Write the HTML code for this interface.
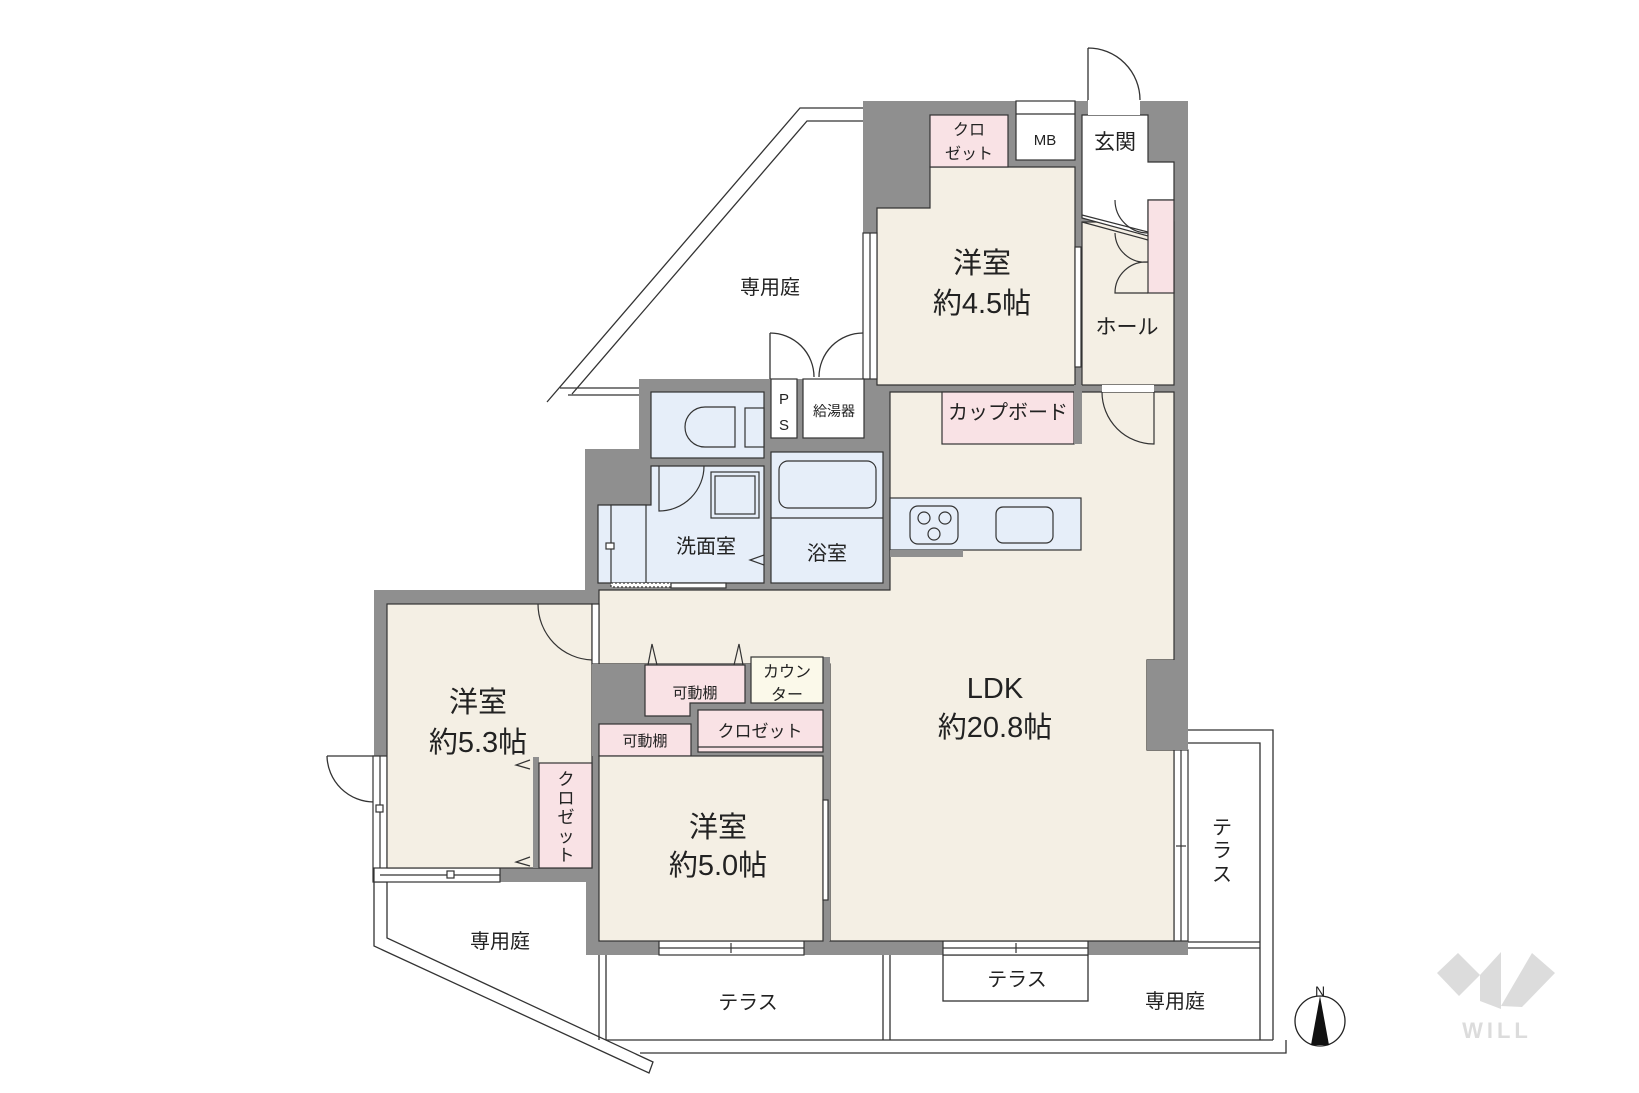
<!DOCTYPE html>
<html><head><meta charset="utf-8"><style>
html,body{margin:0;padding:0;background:#fff;}
svg{display:block;}
text{font-family:"Liberation Sans","Noto Sans CJK JP",sans-serif;fill:#222;}
</style></head><body>
<svg width="1639" height="1093" viewBox="0 0 1639 1093" xmlns="http://www.w3.org/2000/svg">
<g fill="none" stroke="#333" stroke-width="1.3">
<!-- top garden -->
<path d="M863,108 L800,108 L547,402"/>
<path d="M863,121 L807,121 L572,394"/>
<path d="M560,388 L639,388 M568,395 L639,395"/>
<path d="M770,333 L770,379"/>
<path d="M770,333 A44,44 0 0 1 814,377 M863,333 A44,44 0 0 0 819,377"/>
<!-- bottom left garden -->
<path d="M374,882 L374,946 L649,1073 L653,1062 L387,938 L387,882"/>
<!-- bottom terraces -->
<path d="M599,955 L599,1040 M606,955 L606,1040"/>
<path d="M606,1040 L1273,1040 M640,1053 L1286,1053 L1286,1040"/>
<path d="M883,955 L883,1040 M890,955 L890,1040"/>
<rect x="943" y="955" width="145" height="46"/>
<path d="M1188,730 L1273,730 L1273,1040 M1188,743 L1260,743 L1260,1040"/>
<path d="M1188,942 L1260,942 M1188,948 L1260,948"/>
<!-- doors outside -->
<path d="M327,756 L374,756 M327,756 A47,47 0 0 0 374,802"/>
<path d="M1088,48 L1088,101 M1088,48 A52,52 0 0 1 1140,100"/>
</g>
<!-- building walls -->
<polygon points="863,101 1188,101 1188,955 586,955 586,882 374,882 374,590 585,590 585,449 639,449 639,379 863,379" fill="#8f8f8f"/>
<g stroke="#333" stroke-width="1.2">
<!-- 4.5 room -->
<polygon points="930,167 1075,167 1075,385 877,385 877,208 930,208" fill="#f4efe4"/>
<rect x="930" y="115" width="78" height="52" fill="#f9e2e5"/>
<rect x="1016" y="101" width="59" height="59" fill="#fff"/>
<line x1="1016" y1="114" x2="1075" y2="114"/>
<!-- genkan / hall -->
<rect x="1082" y="222" width="92" height="163" fill="#f4efe4"/>
<polygon points="1082,115 1148,115 1148,162 1174,162 1174,200 1148,200 1148,236 1082,218" fill="#fff"/>
<rect x="1088" y="100" width="52" height="15" fill="#fff" stroke="none"/>
<path d="M1082,215 L1148,232 M1082,222 L1148,240" fill="none"/>
<rect x="1148" y="200" width="26" height="93" fill="#f9e2e5"/>
<path d="M1115,200 A33,33 0 0 0 1148,233 M1115,233 A30,30 0 0 0 1148,262 M1148,262 A31,31 0 0 0 1115,293 L1148,293" fill="none"/>
<!-- windows -->
<rect x="863" y="233" width="14" height="146" fill="#fff"/>
<line x1="870" y1="233" x2="870" y2="379"/>
<rect x="1075" y="247" width="6" height="120" fill="#fff"/>
<rect x="373" y="756" width="14" height="126" fill="#fff"/>
<line x1="380" y1="756" x2="380" y2="882"/>
<rect x="374" y="868" width="126" height="14" fill="#fff"/>
<line x1="380" y1="875" x2="500" y2="875"/>
<rect x="376" y="805" width="7" height="7" fill="#fff"/>
<rect x="447" y="871" width="7" height="7" fill="#fff"/>
<rect x="659" y="941" width="145" height="14" fill="#fff"/>
<line x1="659" y1="948" x2="804" y2="948"/><line x1="731" y1="943" x2="731" y2="953"/>
<rect x="943" y="941" width="145" height="14" fill="#fff"/>
<line x1="943" y1="948" x2="1088" y2="948"/><line x1="1016" y1="943" x2="1016" y2="953"/>
<rect x="1174" y="750" width="14" height="191" fill="#fff"/>
<line x1="1181" y1="750" x2="1181" y2="941"/><line x1="1176" y1="846" x2="1186" y2="846"/>
<!-- utility boxes -->
<rect x="771" y="379" width="26" height="59" fill="#fff"/>
<rect x="803" y="379" width="61" height="59" fill="#fff"/>
<!-- LDK -->
<polygon points="890,392 1174,392 1174,660 1147,660 1147,750 1174,750 1174,941 830,941 830,664 599,664 599,590 890,590" fill="#f4efe4"/>
<polygon points="1147,660 1188,660 1188,750 1147,750" fill="#8f8f8f" stroke="none"/>
<rect x="942" y="392" width="132" height="52" fill="#f9e2e5"/>
<rect x="1074" y="385" width="8" height="59" fill="#8f8f8f" stroke="none"/>
<rect x="1102" y="385" width="52" height="7" fill="#fff" stroke="none"/>
<path d="M1102,392 A52,52 0 0 0 1154,444 L1154,392" fill="none"/>
<rect x="890" y="498" width="191" height="52" fill="#e6eef9"/>
<rect x="890" y="550" width="73" height="7" fill="#8f8f8f" stroke="none"/>
<rect x="910" y="506" width="48" height="38" rx="8" fill="#e6eef9"/>
<circle cx="924" cy="518" r="6" fill="none"/><circle cx="945" cy="518" r="6" fill="none"/><circle cx="934" cy="534" r="6" fill="none"/>
<rect x="996" y="507" width="57" height="36" rx="7" fill="#e6eef9"/>
<!-- toilet / wash / bath -->
<rect x="651" y="392" width="113" height="66" fill="#e6eef9"/>
<path d="M735,407 L705,407 A20,20 0 0 0 705,447 L735,447 Z" fill="#e6eef9"/>
<rect x="745" y="408" width="19" height="39" fill="#e6eef9"/>
<polygon points="651,466 764,466 764,583 598,583 598,505 651,505" fill="#e6eef9"/>
<path d="M659,466 L659,511 A45,45 0 0 0 704,466" fill="none"/>
<rect x="711" y="472" width="48" height="46" fill="#e6eef9"/>
<rect x="715" y="476" width="40" height="38" fill="none"/>
<rect x="611" y="505" width="35" height="78" fill="#e6eef9"/>
<rect x="606" y="543" width="8" height="6" fill="#fff"/>
<path d="M764,555 L750,560 L764,565" fill="none"/>
<rect x="611" y="583" width="60" height="4" fill="#fff" stroke-dasharray="2,2"/>
<rect x="671" y="583" width="55" height="5" fill="#fff"/>
<rect x="771" y="452" width="112" height="131" fill="#e6eef9"/>
<line x1="771" y1="518" x2="883" y2="518"/>
<rect x="779" y="461" width="97" height="47" rx="9" fill="#e6eef9"/>
<!-- 5.3 room -->
<rect x="387" y="604" width="205" height="264" fill="#f4efe4"/>
<rect x="592" y="604" width="7" height="60" fill="#fff"/>
<path d="M538,604 A56,56 0 0 0 592,660" fill="none"/>
<rect x="533" y="757" width="6" height="111" fill="#8f8f8f" stroke="none"/>
<rect x="539" y="763" width="53" height="105" fill="#f9e2e5"/>
<path d="M530,760 L516,765 L530,769 M530,857 L516,862 L530,866" fill="none"/>
<!-- center block -->
<rect x="592" y="664" width="238" height="92" fill="#8f8f8f" stroke="none"/>
<rect x="823" y="657" width="7" height="284" fill="#8f8f8f" stroke="none"/>
<polygon points="645,665 745,665 745,703 690,703 690,716 645,716" fill="#f9e2e5"/>
<path d="M648,665 L652,644 L657,665 M734,665 L739,644 L743,665" fill="none"/>
<rect x="751" y="657" width="72" height="46" fill="#fbf9ea"/>
<rect x="599" y="724" width="92" height="32" fill="#f9e2e5"/>
<rect x="698" y="710" width="125" height="42" fill="#f9e2e5"/>
<line x1="698" y1="747" x2="823" y2="747"/>
<!-- 5.0 room -->
<rect x="599" y="756" width="224" height="185" fill="#f4efe4"/>
<rect x="823" y="800" width="5" height="100" fill="#fff"/>
</g>
<!-- labels -->
<g text-anchor="middle">
<text x="982" y="273" font-size="29">洋室</text>
<text x="982" y="313" font-size="29">約4.5帖</text>
<text x="478" y="712" font-size="29">洋室</text>
<text x="478" y="752" font-size="29">約5.3帖</text>
<text x="718" y="837" font-size="29">洋室</text>
<text x="718" y="875" font-size="29">約5.0帖</text>
<text x="995" y="698" font-size="29">LDK</text>
<text x="995" y="737" font-size="29">約20.8帖</text>
<text x="1127" y="334" font-size="21">ホール</text>
<text x="1115" y="149" font-size="21">玄関</text>
<text x="1045" y="145" font-size="15">MB</text>
<text x="969" y="135" font-size="16">クロ</text>
<text x="969" y="159" font-size="16">ゼット</text>
<text x="1008" y="419" font-size="20">カップボード</text>
<text x="784" y="404" font-size="15">P</text>
<text x="784" y="430" font-size="15">S</text>
<text x="834" y="416" font-size="14">給湯器</text>
<text x="706" y="553" font-size="20">洗面室</text>
<text x="827" y="560" font-size="20">浴室</text>
<text x="695" y="698" font-size="15">可動棚</text>
<text x="645" y="746" font-size="15">可動棚</text>
<text x="760" y="737" font-size="17">クロゼット</text>
<text x="787" y="677" font-size="16">カウン</text>
<text x="787" y="700" font-size="16">ター</text>
<text x="566" y="785" font-size="17">ク</text>
<text x="566" y="804" font-size="17">ロ</text>
<text x="566" y="823" font-size="17">ゼ</text>
<text x="566" y="842" font-size="17">ッ</text>
<text x="566" y="861" font-size="17">ト</text>
<text x="770" y="294" font-size="20">専用庭</text>
<text x="500" y="948" font-size="20">専用庭</text>
<text x="1175" y="1008" font-size="20">専用庭</text>
<text x="748" y="1009" font-size="20">テラス</text>
<text x="1017" y="986" font-size="20">テラス</text>
<text x="1222" y="834" font-size="20">テ</text>
<text x="1222" y="857" font-size="20">ラ</text>
<text x="1222" y="881" font-size="20">ス</text>
<text x="1320" y="996" font-size="14">N</text>
</g>
<circle cx="1320" cy="1021" r="25" fill="#fff" stroke="#222" stroke-width="1.3"/>
<polygon points="1320,996 1311,1045 1329,1045" fill="#111"/>
<!-- WILL logo -->
<g fill="#dcdcdc">
<polygon points="1437,973 1458,953 1480,975 1459,996"/>
<polygon points="1480,975 1501,952 1501,1009 1480,1001"/>
<polygon points="1501,1006 1532,953 1555,973 1522,1007"/>
<text x="1497" y="1038" font-size="22" font-weight="bold" text-anchor="middle" style="fill:#dcdcdc;letter-spacing:4px">WILL</text>
</g>
</svg>
</body></html>
